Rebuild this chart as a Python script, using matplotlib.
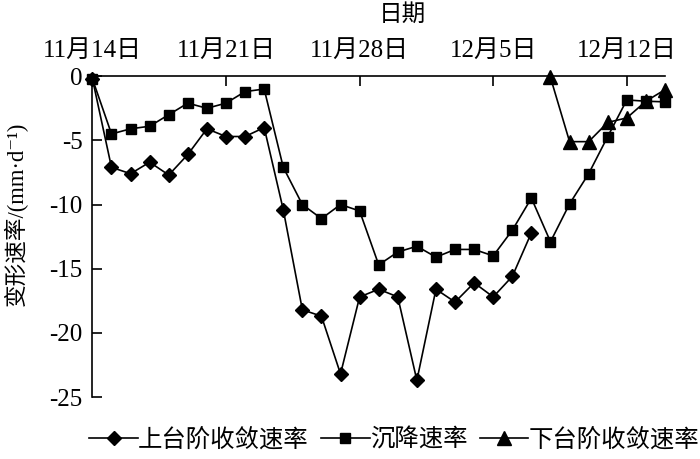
import pandas as pd
import matplotlib
matplotlib.use('Agg')
from matplotlib import pyplot as plt

plt.rcParams['font.family'] = ['Liberation Serif', 'Noto Sans CJK SC', 'DejaVu Serif']

# daily readings, 11/14 .. 12/14
dates = pd.date_range('2020-11-14', periods=31, freq='D')

upper = [-0.2, -7.1, -7.6, -6.7, -7.7, -6.1, -4.1, -4.7, -4.7, -4.0,
         -10.4, -18.2, -18.7, -23.2, -17.2, -16.6, -17.2, -23.7, -16.6, -17.6,
         -16.1, -17.2, -15.6, -12.2]
settle = [-0.2, -4.5, -4.1, -3.9, -3.0, -2.1, -2.5, -2.1, -1.2, -1.0,
          -7.1, -10.0, -11.1, -10.0, -10.5, -14.7, -13.7, -13.25, -14.1, -13.5,
          -13.5, -14.0, -12.0, -9.5, -12.9, -9.95, -7.6, -4.7, -1.85, -1.95,
          -2.0]
lower = [-0.1, -5.1, -5.1, -3.6, -3.25, -1.95, -1.05]

tick_dates = ['2020-11-14', '2020-11-21', '2020-11-28', '2020-12-05', '2020-12-12']
tick_labels = ['11月14日', '11月21日', '11月28日', '12月5日', '12月12日']

fig = plt.figure(figsize=(7, 4.59), dpi=100)
ax = fig.add_axes([0.132, 0.135, 0.818, 0.699])

kw = dict(color='black', lw=1.2, clip_on=False)
ax.plot(dates[:len(upper)], upper, marker='D', ms=7.5, label='上台阶收敛速率', **kw)
ax.plot(dates[:len(settle)], settle, marker='s', ms=7.5, label='沉降速率', **kw)
ax.plot(dates[len(dates) - len(lower):], lower, marker='^', ms=9.5, label='下台阶收敛速率', **kw)

ax.set_xlim(dates[0], dates[-1])
ax.set_ylim(-25, 0)
ax.set_yticks([0, -5, -10, -15, -20, -25])
ax.set_yticklabels(['0', '-5', '-10', '-15', '-20', '-25'])
ax.set_xticks(pd.to_datetime(tick_dates))
ax.set_xticklabels(tick_labels)

ax.xaxis.tick_top()
ax.xaxis.set_label_position('top')
ax.spines['right'].set_visible(False)
ax.spines['bottom'].set_visible(False)
for s in ['left', 'top']:
    ax.spines[s].set_linewidth(1.2)
ax.tick_params(axis='both', direction='in', length=7, width=1.2, labelsize=18)
ax.tick_params(axis='x', pad=10)
ax.tick_params(axis='y', pad=7)

ax.set_xlabel('日期', fontsize=17, labelpad=14)
ax.xaxis.label.set_x(0.542)
ax.set_ylabel('变形速率/(mm·d⁻¹)', fontsize=16.3)
ax.yaxis.set_label_coords(-0.112, 0.570)

fig.legend(loc='center', bbox_to_anchor=(0.563, 0.041), ncol=3, frameon=False,
           fontsize=17.6, handlelength=2.0, handletextpad=0.0, columnspacing=0.5,
           borderaxespad=0)

fig.savefig('out.png', dpi=100)
